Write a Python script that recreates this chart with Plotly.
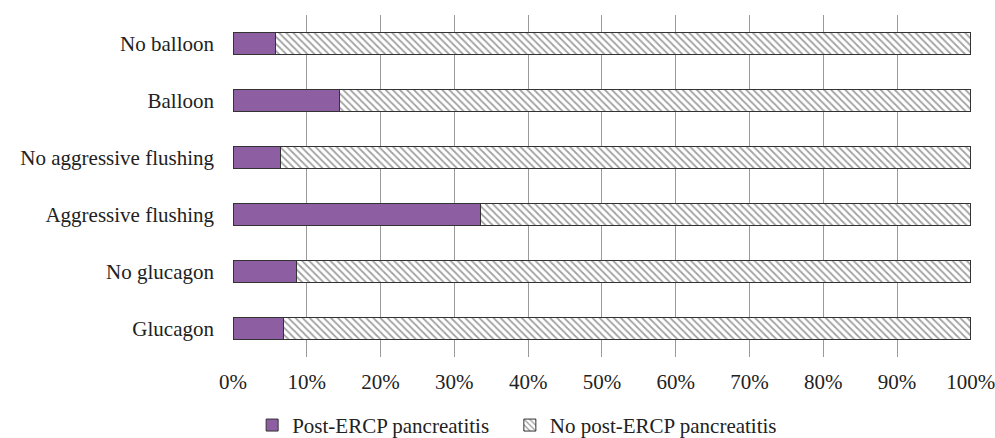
import plotly.graph_objects as go

categories = ["Glucagon", "No glucagon", "Aggressive flushing", "No aggressive flushing", "Balloon", "No balloon"]
pep_pct = [6.8, 8.6, 33.5, 6.4, 14.4, 5.8]
no_pep_pct = [93.2, 91.4, 66.5, 93.6, 85.6, 94.2]
tick_vals = [0, 10, 20, 30, 40, 50, 60, 70, 80, 90, 100]
tick_text = [f"{v}%" for v in tick_vals]

font_family = "Liberation Serif, Times New Roman, serif"
fs = 21

fig = go.Figure()
fig.add_trace(go.Bar(
    y=categories, x=pep_pct, orientation="h", name="Post-ERCP pancreatitis\u00a0\u00a0\u00a0",
    marker=dict(color="#8E5EA2", line=dict(color="#333333", width=1)),
))
fig.add_trace(go.Bar(
    y=categories, x=no_pep_pct, orientation="h", name="No post-ERCP pancreatitis",
    marker=dict(color="white", line=dict(color="#333333", width=1),
                pattern=dict(shape="\\", fgcolor="#444444", bgcolor="white", size=5, solidity=0.35)),
))

fig.update_layout(
    barmode="stack",
    bargap=0.63,
    width=995, height=438,
    margin=dict(l=233, r=24, t=15, b=81, autoexpand=False),
    plot_bgcolor="white", paper_bgcolor="white",
    font=dict(family=font_family, size=fs, color="#222222"),
    showlegend=True,
    legend=dict(orientation="h", x=0.385, xanchor="center", y=-0.2, yanchor="middle",
                font=dict(size=fs), traceorder="normal", itemwidth=30),
    xaxis=dict(range=[0, 100.02], tickvals=tick_vals, ticktext=tick_text,
               showgrid=True, gridcolor="#9a9a9a", gridwidth=1,
               zeroline=False, showline=False, ticks="", ticklabelstandoff=10,
               ticklabeloverflow="allow",
               automargin=False, fixedrange=True),
    yaxis=dict(categoryorder="array", categoryarray=categories,
               showgrid=False, zeroline=False, showline=False,
               ticks="", ticklabelstandoff=18, automargin=False, fixedrange=True),
)
fig.update_xaxes(tickfont=dict(size=fs))
fig.update_yaxes(tickfont=dict(size=fs))

fig.write_html("out.html", config={"displayModeBar": False},
               post_script="document.body.style.margin='0px';")
